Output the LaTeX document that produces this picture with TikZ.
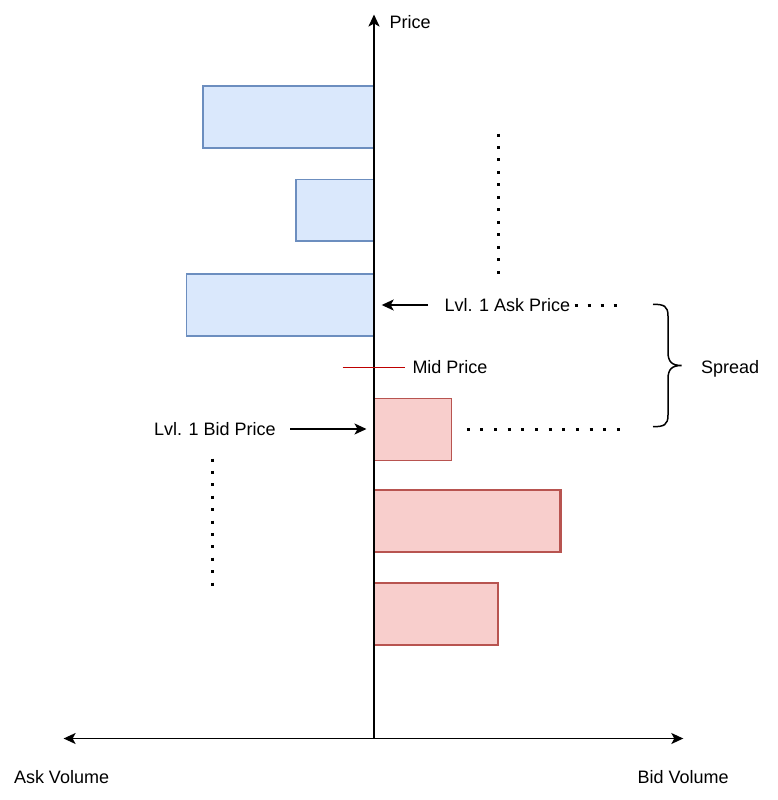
\documentclass[tikz,border=0pt]{standalone}
\usepackage{fontspec}
\setmainfont{Liberation Sans}
\usetikzlibrary{arrows.meta}
\definecolor{askfill}{HTML}{DAE8FC}
\definecolor{askline}{HTML}{6C8EBF}
\definecolor{bidfill}{HTML}{F8CECC}
\definecolor{bidline}{HTML}{B85450}
\definecolor{midred}{RGB}{190,0,0}
\tikzset{
  lbl/.style={inner sep=0pt, anchor=base west, font=\fontsize{18}{22}\selectfont},
  bar/.style={inner sep=0pt, outer sep=0pt, anchor=north west, minimum width=#1},
  askbar/.style={bar=#1, draw=askline, fill=askfill, line width=1.5pt},
  bidbar/.style={bar=#1, draw=bidline, fill=bidfill, line width=1.3pt},
  tip/.style={-{Stealth[length=12pt,width=11pt,inset=3pt]}},
  dotrow/.style={line width=3pt, dash pattern=on 3pt off #1},
}
\begin{document}
\begin{tikzpicture}[x=1pt,y=-1pt]
\useasboundingbox (0,0) rectangle (777,800);
% ask bars
\node[askbar=171pt, minimum height=62pt] (a1) at (203,86) {};
\node[askbar=78pt, minimum height=61.7pt] (a2) at (296,179.3) {};
\node[askbar=187.3pt, minimum height=62pt] (a3) at (186.7,274) {};
% bid bars
\node[bidbar=77.6pt, minimum height=62pt, line width=1.2pt] (b1) at (374,398.3) {};
\node[bidbar=186.4pt, minimum height=62.3pt, line width=2.2pt] (b2) at (374,489.7) {};
\node[bidbar=124.2pt, minimum height=62pt, line width=2.2pt] (b3) at (374,583.3) {};
% axes
\coordinate (O) at (374,738.5);
\coordinate (top) at (374,14.5);
\coordinate (left) at (63.6,738.5);
\coordinate (right) at (683.3,738.5);
\draw[line width=1.5pt, {Stealth[length=12pt,width=11pt,inset=3pt]}-{Stealth[length=12pt,width=11pt,inset=3pt]}] (left) -- (right);
\draw[line width=2.3pt, tip] (O) -- (top);
% mid price line
\coordinate (m1) at (342.7,367.3);
\coordinate (m2) at (405,367.3);
\draw[midred, line width=1.3pt] (m1) -- (m2);
% labels
\node[lbl] (price) at (389.3,29) {Price};
\node[lbl] (ask) at (444.3,311.5) {Lvl. 1 Ask Price};
\node[lbl] (mid) at (412.3,373.8) {Mid Price};
\node[lbl] (spread) at (701,373.8) {Spread};
\node[lbl] (bid) at (153.8,435.5) {Lvl. 1 Bid Price};
\node[lbl] (askvol) at (13.8,783.2) {Ask Volume};
\node[lbl] (bidvol) at (637.3,783.5) {Bid Volume};
% pointer arrows
\coordinate (askS) at (428,305);
\coordinate (askE) at (381.7,305);
\draw[line width=1.5pt, tip] (askS) -- (askE);
\coordinate (bidS) at (290,429);
\coordinate (bidE) at (366.5,429);
\draw[line width=1.5pt, tip] (bidS) -- (bidE);
% dotted lines
\draw[dotrow=9.48pt] (498.3,133.5) -- (498.3,273.8);
\draw[dotrow=9.4pt] (212.4,458.5) -- (212.4,585.5);
\draw[dotrow=10pt] (574.5,305) -- (616.5,305);
\draw[dotrow=10.64pt] (466.8,429) -- (619.8,429);
% brace
\draw[line width=1.5pt] (653,304.3) .. controls (664,304.3) and (668,306) .. (668,316)
  -- (668,352) .. controls (668,362) and (672,365.5) .. (681.7,365.5)
  .. controls (672,365.5) and (668,369) .. (668,379)
  -- (668,415) .. controls (668,425) and (664,426.7) .. (653,426.7);
\end{tikzpicture}
\end{document}
